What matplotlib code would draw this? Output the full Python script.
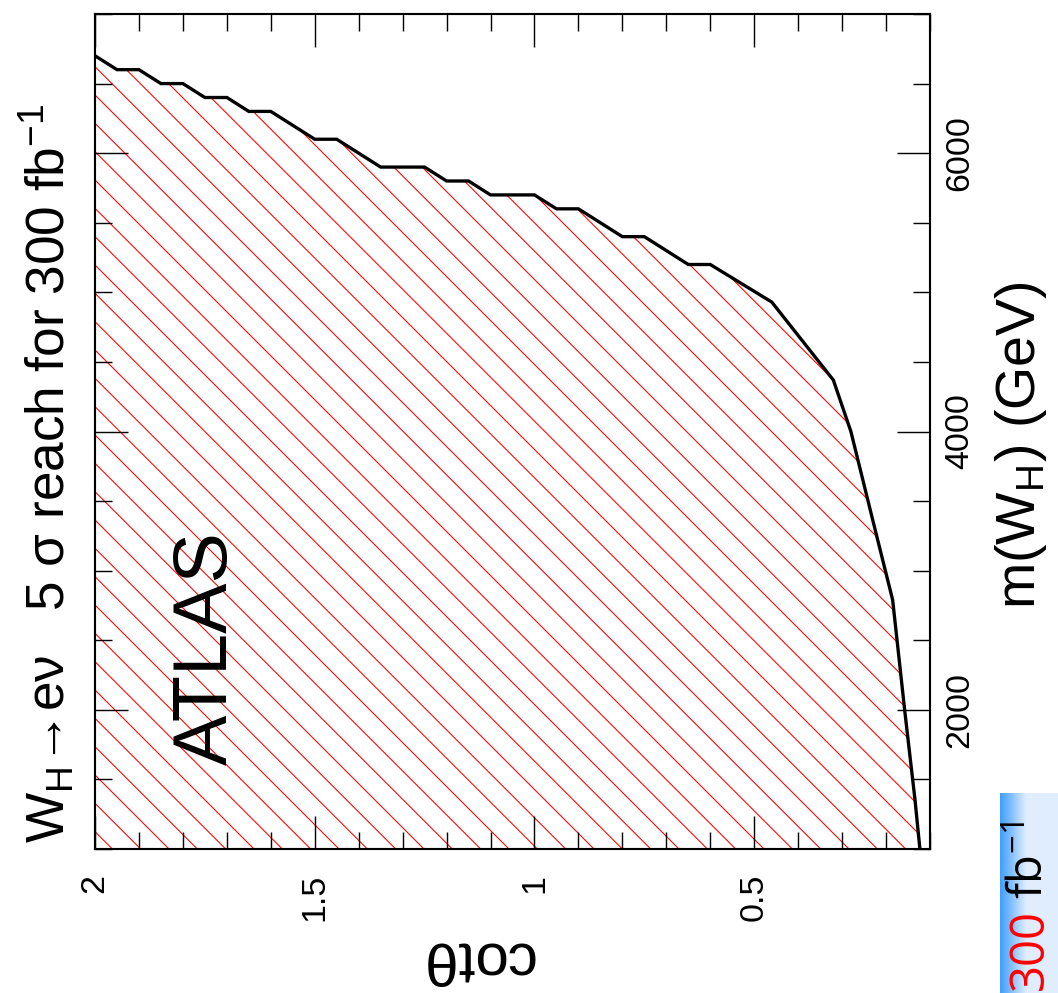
import numpy as np
import matplotlib
matplotlib.use("Agg")
import matplotlib.pyplot as plt
from matplotlib.ticker import MultipleLocator, FixedLocator

cot_theta = [2.00, 1.95, 1.90, 1.85, 1.80, 1.75, 1.70, 1.65, 1.60, 1.55, 1.50, 1.45,
             1.40, 1.35, 1.25, 1.20, 1.15, 1.10, 1.00, 0.95, 0.90, 0.80, 0.75, 0.65,
             0.60, 0.46, 0.32, 0.28, 0.23, 0.185, 0.157, 0.134, 0.123]
mass = [6700, 6600, 6600, 6500, 6500, 6400, 6400, 6300, 6300, 6200, 6100, 6100,
        6000, 5900, 5900, 5800, 5800, 5700, 5700, 5600, 5600, 5400, 5400, 5200,
        5200, 4930, 4370, 4000, 3360, 2790, 1980, 1350, 1000]

cot_ticks = [0.5, 1.0, 1.5, 2.0]
cot_labels = ["0.5", "1", "1.5", "2"]
mass_ticks = [2000, 4000, 6000]
mass_labels = ["2000", "4000", "6000"]

W, H, DPI = 1058, 993, 170
plt.rcParams['font.family'] = ['Liberation Sans', 'DejaVu Sans']
plt.rcParams['mathtext.fontset'] = 'custom'
plt.rcParams['mathtext.rm'] = 'Liberation Sans'
plt.rcParams['hatch.linewidth'] = 0.45

fig = plt.figure(figsize=(W / DPI, H / DPI), dpi=DPI)

def px(x, y):
    # pixel position (from top-left) -> figure fraction
    return x / W, 1 - y / H

# main frame: 95..930 horizontally, 14..849 vertically
ax = fig.add_axes([95 / W, 1 - 849 / H, 835 / W, 835 / H])
ax.fill_betweenx(mass, cot_theta, 2.0, facecolor='none', edgecolor='red',
                 linewidth=0, hatch='\\\\')
ax.plot(cot_theta, mass, color='black', lw=1.4, solid_joinstyle='miter')

ax.set_xlim(2.0, 0.1)
ax.set_ylim(1000, 7000)
ax.xaxis.set_major_locator(FixedLocator(cot_ticks))
ax.set_xticklabels(cot_labels, rotation=90)
ax.xaxis.set_minor_locator(MultipleLocator(0.1))
ax.yaxis.set_major_locator(FixedLocator(mass_ticks))
ax.yaxis.set_minor_locator(MultipleLocator(500))
ax.tick_params(which='both', direction='in', top=True, bottom=True, left=True, right=True,
               labelleft=False, labelright=True, width=0.6)
ax.tick_params(which='major', length=14)
ax.tick_params(which='minor', length=7.2)
ax.tick_params(axis='x', labelsize=14.4, pad=10.5)
ax.tick_params(axis='y', labelsize=14.4, pad=6)
ax.set_yticklabels(mass_labels, rotation=90, va='center')
for s in ax.spines.values():
    s.set_linewidth(0.9)

ax.text(0.134, 0.241, "ATLAS", transform=ax.transAxes, rotation=90,
        ha='center', va='center', fontsize=32)

# title along the left side
fig.text(*px(47, 843), r'W$_\mathregular{H}$→eν   5 σ reach for 300 fb$^\mathregular{-1}$',
         rotation=90, ha='center', va='bottom', fontsize=22.5)
# axis titles
fig.text(*px(1021, 445), r'm(W$_\mathregular{H}$) (GeV)', rotation=90,
         ha='center', va='center', fontsize=23.5)
fig.text(*px(477, 958), 'cotθ', rotation=180, ha='center', va='center', fontsize=25.5)

# slide badge in the corner
bax = fig.add_axes([1000 / W, 0, 58 / W, 200 / H])
grad = np.linspace(0, 1, 64)
shade = np.clip(grad * 2.2, 0, 1)
blue = np.array([0.25, 0.62, 1.0])
pale = np.array([0.88, 0.93, 1.0])
img = blue[None, :] * (1 - shade[:, None]) + pale[None, :] * shade[:, None]
bax.imshow(img[None, :, :], aspect='auto', extent=[0, 1, 0, 1])
bax.set_axis_off()
fig.text(*px(1030, 990), '300', color='red', rotation=90, ha='center', va='bottom',
         fontsize=20, family=['Open Sans', 'DejaVu Sans'])
fig.text(*px(1030, 899), r'fb$^\mathregular{-1}$', color='black', rotation=90, ha='center',
         va='bottom', fontsize=20, family=['Open Sans', 'DejaVu Sans'])

fig.savefig("out.png", dpi=DPI)
